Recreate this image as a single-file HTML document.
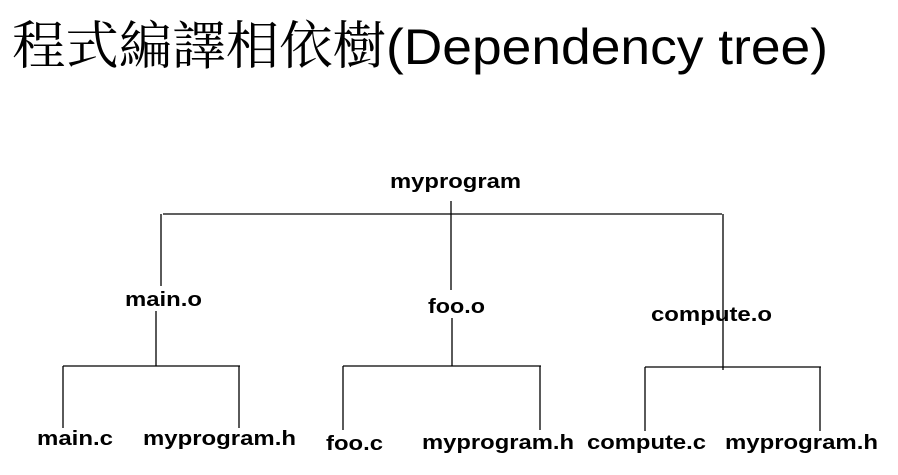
<!DOCTYPE html>
<html><head><meta charset="utf-8"><style>
html,body{margin:0;padding:0;background:#fff;width:898px;height:475px;overflow:hidden}
svg{display:block}
.t{font-family:"Liberation Sans",Arial,sans-serif;font-weight:bold;font-size:20px;fill:#000}
</style></head><body>
<svg width="898" height="475" xmlns="http://www.w3.org/2000/svg">
<text x="12" y="64" font-family="'Noto Serif CJK SC','Noto Sans CJK TC',serif" font-size="52" textLength="374" lengthAdjust="spacingAndGlyphs">程式編譯相依樹</text>
<text x="386" y="64" font-family="'Liberation Sans',sans-serif" font-size="50" textLength="442" lengthAdjust="spacingAndGlyphs">(Dependency tree)</text>
<g stroke="#000" stroke-width="1.3" fill="none">
<line x1="163" y1="214" x2="722" y2="214"/>
<line x1="451" y1="201" x2="451" y2="290"/>
<line x1="161" y1="214" x2="161" y2="286"/>
<line x1="723" y1="214" x2="723" y2="370"/>
<line x1="156" y1="311" x2="156" y2="366"/>
<line x1="63" y1="366" x2="240" y2="366"/>
<line x1="63" y1="366" x2="63" y2="428"/>
<line x1="239" y1="366" x2="239" y2="428"/>
<line x1="452" y1="318" x2="452" y2="366"/>
<line x1="343" y1="366" x2="541" y2="366"/>
<line x1="343" y1="366" x2="343" y2="430"/>
<line x1="540" y1="366" x2="540" y2="430"/>
<line x1="645" y1="367" x2="821" y2="367"/>
<line x1="645" y1="367" x2="645" y2="431"/>
<line x1="820" y1="367" x2="820" y2="431"/>
</g>
<text class="t" x="390" y="188" textLength="131" lengthAdjust="spacingAndGlyphs">myprogram</text>
<text class="t" x="125" y="306" textLength="77" lengthAdjust="spacingAndGlyphs">main.o</text>
<text class="t" x="428" y="313" textLength="57" lengthAdjust="spacingAndGlyphs">foo.o</text>
<text class="t" x="651" y="321" textLength="121" lengthAdjust="spacingAndGlyphs">compute.o</text>
<text class="t" x="37" y="445" textLength="76" lengthAdjust="spacingAndGlyphs">main.c</text>
<text class="t" x="143" y="445" textLength="153" lengthAdjust="spacingAndGlyphs">myprogram.h</text>
<text class="t" x="326" y="450" textLength="57" lengthAdjust="spacingAndGlyphs">foo.c</text>
<text class="t" x="422" y="449" textLength="152" lengthAdjust="spacingAndGlyphs">myprogram.h</text>
<text class="t" x="587" y="449" textLength="119" lengthAdjust="spacingAndGlyphs">compute.c</text>
<text class="t" x="725" y="449" textLength="153" lengthAdjust="spacingAndGlyphs">myprogram.h</text>
</svg>
</body></html>
